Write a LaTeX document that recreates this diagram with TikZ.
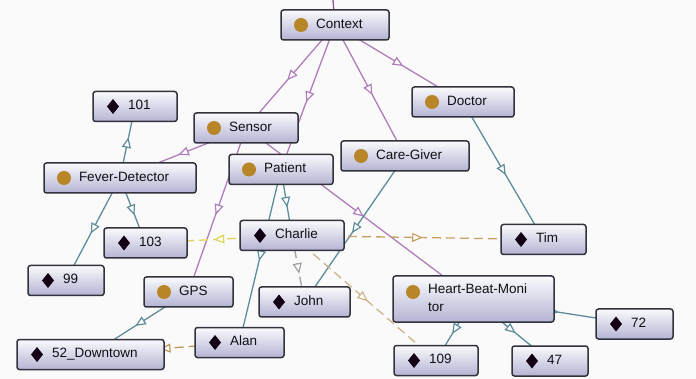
\documentclass[tikz,border=0pt]{standalone}
\usepackage{fontspec}
\setmainfont{Liberation Sans}
\usetikzlibrary{arrows.meta,decorations.markings}
\pgfdeclarelayer{bg}
\pgfdeclarelayer{edges}
\pgfsetlayers{bg,edges,main}
\definecolor{bgc}{RGB}{250,250,250}
\definecolor{boxtop}{RGB}{250,250,253}
\definecolor{boxbot}{RGB}{180,180,212}
\definecolor{boxline}{RGB}{50,50,60}
\definecolor{gold}{RGB}{184,134,40}
\definecolor{diam}{RGB}{20,0,20}
\definecolor{txt}{RGB}{15,15,20}
\definecolor{subc}{RGB}{175,125,185}
\definecolor{subcdark}{RGB}{140,80,150}
\definecolor{inst}{RGB}{95,140,155}
\definecolor{dyellow}{RGB}{225,210,90}
\definecolor{dtan}{RGB}{200,160,100}
\definecolor{dgray}{RGB}{160,160,165}
\definecolor{dlight}{RGB}{205,180,140}
\definecolor{dbrown}{RGB}{190,150,90}
\tikzset{
  box/.style={rectangle, rounded corners=2.5pt, draw=boxline, line width=1.5pt,
    top color=boxtop, bottom color=boxbot, minimum height=30pt,
    inner xsep=5pt, inner ysep=0pt, text width=#1pt-10pt, align=left,
    text=txt, font=\fontsize{13.5}{16}\selectfont,
    execute at begin node={\leftskip=30pt\relax\strut},
    execute at end node={\strut}},
  cls/.style={box=#1, path picture={\fill[gold] ([xshift=20pt,yshift=-15pt]path picture bounding box.north west) circle (7pt);}},
  ind/.style={box=#1, path picture={\fill[diam, sharp corners] ([xshift=20pt,yshift=-15pt]path picture bounding box.north west) +(0,7.5pt) -- +(6pt,0) -- +(0,-7.5pt) -- +(-6pt,0) -- cycle;}},
  link/.style={line width=1.3pt, postaction={decorate}, decoration={markings,
    mark=at position 0.5 with {\arrow[xshift=5pt,line width=1.2pt]{Triangle[length=10.5pt,width=9pt,fill=white]}}}},
  subl/.style={link, draw=subc},
  instl/.style={link, draw=inst},
  prop/.style={link, draw=#1, dash pattern=on 9pt off 5pt},
}
\begin{document}
\begin{tikzpicture}[x=1pt,y=-1pt]
\begin{pgfonlayer}{bg}
\fill[bgc] (0,0) rectangle (696,379);
\end{pgfonlayer}
\useasboundingbox (0,0) rectangle (696,379);

\node[cls=108] (ctx) at (335,25) {Context};
\node[cls=102] (doc) at (463,102) {Doctor};
\node[cls=128] (care) at (405,156) {Care-Giver};
\node[ind=84] (n101) at (135,106.5) {101};
\node[cls=104] (sens) at (246,128) {Sensor};
\node[cls=104] (pat) at (281,169.5) {Patient};
\node[cls=152] (fev) at (120,178) {Fever-Detector};
\node[ind=83] (n103) at (145.5,243) {103};
\node[ind=104] (charlie) at (292,235.5) {Charlie};
\node[ind=76] (n99) at (66,280.5) {99};
\node[cls=89] (gps) at (188.5,292) {GPS};
\node[ind=91] (john) at (304.5,302) {John};
\node[ind=89] (alan) at (239.5,342.5) {Alan};
\node[ind=147] (down) at (90.5,354.5) {52\_Downtown};
\node[ind=85] (tim) at (543.5,239.5) {Tim};
\node[cls=161, minimum height=46pt, font=\fontsize{13.5}{18}\selectfont,
  path picture={\fill[gold] ([xshift=20pt,yshift=-16pt]path picture bounding box.north west) circle (7pt);}]
  (hbm) at (473.5,299) {Heart-Beat-Moni\\tor};
\node[ind=77] (n72) at (634.5,324) {72};
\node[ind=84] (n109) at (436,360.5) {109};
\node[ind=76] (n47) at (550,361) {47};
\coordinate (thing) at (333,0);

\begin{pgfonlayer}{edges}
\draw[subcdark, line width=1.3pt] (ctx.center) -- (thing);
\draw[subl] (ctx.center) -- (sens.center);
\draw[subl] (ctx.center) -- (pat.center);
\draw[subl] (ctx.center) -- (care.center);
\draw[subl] (ctx.center) -- (doc.center);
\draw[subl] (sens.center) -- (fev.center);
\draw[subl] (sens.center) -- (gps.center);
\draw[subl] (sens.center) -- (hbm.center);
\draw[instl] (fev.center) -- (n101.center);
\draw[instl] (fev.center) -- (n103.center);
\draw[instl] (fev.center) -- (n99.center);
\draw[instl] (gps.center) -- (down.center);
\draw[instl] (pat.center) -- (charlie.center);
\draw[instl] (pat.center) -- (alan.center);
\draw[instl] (care.center) -- (john.center);
\draw[instl] (doc.center) -- (tim.center);
\draw[instl] (hbm.center) -- (n109.center);
\draw[instl] (hbm.center) -- (n47.center);
\draw[instl] (hbm.center) -- (n72.center);
\draw[prop=dyellow] (charlie.center) -- (n103.center);
\draw[prop=dtan] (charlie.center) -- (tim.center);
\draw[prop=dgray] (charlie.center) -- (john.center);
\draw[prop=dlight] (charlie.center) -- (n109.center);
\draw[prop=dbrown] (alan.center) -- (down.center);
\end{pgfonlayer}
\end{tikzpicture}
\end{document}
